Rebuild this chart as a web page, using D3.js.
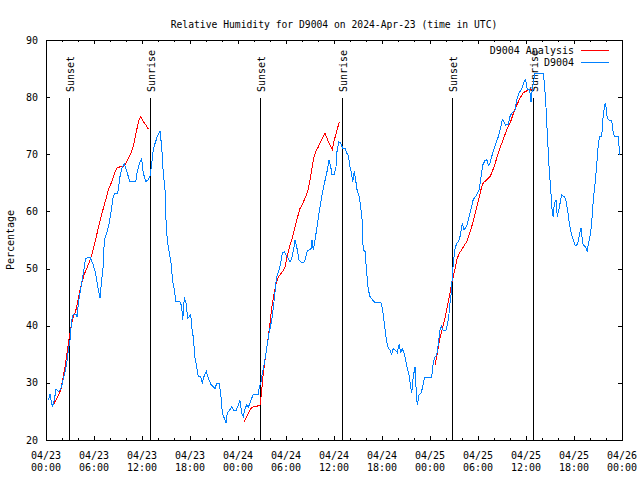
<!DOCTYPE html>
<html><head><meta charset="utf-8">
<script src="https://cdn.jsdelivr.net/npm/d3@7"></script>
<style>
html,body{margin:0;padding:0;background:#fff;}
svg{display:block;}
text{font-family:"DejaVu Sans Mono",monospace;font-size:10px;fill:#000;}
text.title{font-size:9.7px;}
</style></head><body>
<svg id="c" width="640" height="480"></svg>
<script>
// ---------------- DATA ----------------
const chartTitle = "Relative Humidity for D9004 on 2024-Apr-23 (time in UTC)";
const yAxisTitle = "Percentage";
const startDate = "2024-04-23T00:00:00Z";
const spanHours = 72;
const seriesNames = ["D9004 Analysis", "D9004"];
const yTicks = [20, 30, 40, 50, 60, 70, 80, 90];

// D9004 observations: hours since start, relative humidity (%)
const obsHours = [0.29,0.5,0.79,1.04,1.25,1.54,1.84,2.04,2.38,2.59,2.79,3.0,3.21,3.41,3.75,3.88,4.04,4.25,4.46,4.66,4.96,5.5,5.84,6.13,6.34,6.54,6.75,6.96,7.16,7.29,7.59,7.88,8.13,8.41,8.63,8.96,9.25,9.54,9.79,10.09,10.5,11.21,11.41,11.75,11.96,12.16,12.5,12.79,13.0,13.21,13.41,13.63,13.91,14.25,14.46,14.66,14.88,15.0,15.16,15.41,15.63,15.84,16.04,16.25,16.75,16.96,17.09,17.29,17.5,17.71,17.91,18.09,18.21,18.41,18.63,18.84,19.04,19.34,19.54,19.75,20.04,20.29,20.59,20.91,21.13,21.34,21.63,21.84,22.04,22.29,22.5,22.66,22.91,23.21,23.5,23.75,24.04,24.25,24.46,24.66,24.88,25.09,25.29,25.5,25.71,25.91,26.54,26.66,26.88,27.04,27.29,27.5,27.71,27.88,28.09,28.29,28.5,28.71,28.84,29.13,29.34,29.54,29.79,30.09,30.29,30.5,30.71,31.0,31.13,31.38,31.63,31.96,32.16,32.38,32.63,32.91,33.13,33.25,33.41,33.63,33.91,34.16,34.46,34.79,35.09,35.38,35.63,35.71,36.0,36.25,36.34,36.59,36.84,37.09,37.38,37.59,37.79,38.0,38.13,38.34,38.54,38.71,38.91,39.16,39.38,39.54,39.59,39.66,39.88,40.09,40.29,40.5,40.84,41.13,41.88,42.09,42.29,42.5,42.71,43.0,43.21,43.41,43.71,43.91,44.16,44.34,44.54,44.75,44.96,45.16,45.38,45.59,45.71,45.91,46.13,46.25,46.41,46.63,46.88,47.09,47.29,47.38,48.21,48.34,48.54,48.84,49.04,49.25,49.41,49.66,49.96,50.16,50.34,50.5,50.66,50.79,50.91,51.13,51.34,51.54,51.75,52.04,52.25,52.59,53.0,53.29,53.41,53.84,54.16,54.38,54.59,54.88,55.09,55.29,55.5,55.71,55.91,56.25,56.54,56.84,57.04,57.25,57.46,57.79,58.0,58.21,58.41,58.63,58.84,59.13,59.34,59.54,59.75,59.96,60.16,60.38,60.5,60.63,60.79,60.91,61.13,62.16,62.29,62.46,62.59,62.71,62.88,63.09,63.29,63.41,63.54,63.75,63.91,64.09,64.46,64.75,64.96,65.21,65.41,65.63,65.84,66.13,66.34,66.54,66.69,66.88,67.04,67.16,67.46,67.66,67.79,68.0,68.21,68.41,68.63,68.84,69.04,69.25,69.46,69.66,69.88,70.0,70.16,70.41,70.71,70.84,71.04,71.54,71.66,71.75];
const obsValues = [27.0,28.0,25.8,27.0,28.9,28.5,28.9,29.9,32.0,33.4,35.7,37.5,41.0,42.0,42.0,41.5,43.9,45.7,47.4,49.2,51.8,52.0,50.9,49.5,48.0,46.3,44.8,48.0,50.6,55.0,56.2,57.9,60.0,62.6,63.2,63.2,66.1,67.8,68.3,67.0,65.2,65.2,67.0,68.7,69.2,66.7,65.2,65.6,66.1,68.4,70.7,71.9,73.1,74.1,71.3,66.7,63.8,58.5,55.0,52.7,50.9,47.7,46.3,44.2,44.2,43.4,41.0,45.0,43.9,41.3,41.6,42.0,39.8,38.0,34.3,32.8,31.1,31.1,30.0,31.1,32.0,30.8,29.8,29.3,29.0,29.9,29.9,28.2,24.7,23.8,23.0,24.7,25.1,25.8,25.1,25.1,26.1,26.9,24.7,24.1,25.5,26.1,25.8,26.4,27.3,28.0,28.0,29.3,30.2,31.7,33.4,35.2,37.2,38.7,40.1,41.6,44.2,47.1,48.6,49.8,50.9,52.8,52.9,52.1,51.8,51.2,51.8,53.8,55.0,53.5,51.5,51.0,51.0,51.5,53.0,53.3,53.5,55.0,53.3,55.0,57.6,60.0,62.6,64.9,66.7,69.0,67.5,66.4,66.4,67.8,70.2,72.2,72.0,71.0,71.0,70.2,69.8,67.8,67.0,65.2,67.0,65.5,63.5,62.6,60.2,58.1,55.0,53.3,53.0,49.2,46.3,45.1,44.5,44.0,44.0,42.7,40.4,38.1,36.3,35.7,35.0,36.0,35.7,35.3,36.8,35.2,36.0,35.2,34.0,32.5,31.4,29.3,28.2,31.1,32.8,29.3,26.1,27.9,28.2,29.3,30.8,31.0,31.0,32.8,34.3,34.9,36.9,39.2,40.0,39.1,39.1,40.1,41.6,43.9,45.7,48.6,50.9,53.5,54.4,54.7,55.6,57.9,56.8,57.4,59.7,61.4,62.1,62.9,63.8,66.1,68.1,68.9,69.1,68.1,68.4,69.6,70.5,71.9,73.1,74.7,76.0,75.7,75.1,75.2,76.6,77.2,77.5,77.7,79.5,80.8,81.1,81.8,82.7,83.1,81.3,81.4,80.7,79.2,81.4,82.4,84.2,84.2,82.4,79.5,75.4,72.5,67.8,63.8,59.7,59.1,61.4,62.0,59.1,60.2,62.9,62.6,62.1,60.2,57.9,56.4,55.3,54.1,54.1,54.7,56.0,57.1,55.0,54.1,53.8,53.0,54.4,55.6,57.9,62.0,64.9,68.1,71.9,73.2,73.1,76.9,78.9,78.3,76.3,76.0,76.0,74.3,73.1,73.1,70.8,69.9];

// D9004 Analysis: three overnight segments
const analysisHours1 = [1.0,1.34,1.63,1.88,2.16,2.38,2.59,2.79,3.0,3.21,3.41,3.63,3.84,4.04,4.25,4.46,4.75,5.09,5.5,5.84,6.13,6.54,6.84,7.16,7.46,7.79,8.13,8.5,8.84,9.25,9.66,10.0,10.29,10.71,11.0,11.34,11.63,11.84,12.16,12.5,12.79];
const analysisValues1 = [26.4,27.3,28.0,29.0,31.1,32.8,34.9,36.9,38.7,40.4,41.6,42.2,43.3,44.8,46.3,47.4,48.9,50.0,51.5,53.0,54.7,57.1,58.8,60.5,62.0,63.8,64.9,66.4,67.6,67.8,67.8,68.4,69.3,70.5,71.9,74.3,76.0,76.6,75.7,75.1,74.4];
const analysisHours2 = [24.79,25.09,25.29,25.59,25.91,26.34,26.75,26.88,27.04,27.16,27.38,27.59,27.79,28.0,28.21,28.41,28.71,28.96,29.25,29.59,29.88,30.09,30.29,30.5,30.79,31.13,31.46,31.75,32.09,32.38,32.71,33.0,33.21,33.41,33.71,34.04,34.34,34.66,34.88,35.21,35.5,35.79,36.04,36.34,36.66];
const analysisValues2 = [23.2,24.1,24.7,25.5,25.8,25.9,26.1,27.6,29.9,31.7,34.0,36.0,38.1,40.4,43.0,44.8,47.1,48.3,48.9,49.5,50.3,51.8,53.0,54.1,55.3,57.3,59.1,60.5,61.4,62.3,63.5,65.5,67.3,69.0,70.5,71.3,72.2,73.1,73.7,72.5,71.6,70.8,72.5,74.0,75.7];
const analysisHours3 = [48.63,48.84,49.04,49.25,49.46,49.66,49.88,50.09,50.29,50.5,50.71,50.91,51.13,51.34,51.66,51.96,52.29,52.59,52.79,53.21,53.54,53.84,54.16,54.46,54.66,55.09,55.5,55.71,56.0,56.34,56.75,57.16,57.59,58.0,58.41,58.84,59.25,59.66,60.09,60.5,60.71];
const analysisValues3 = [33.1,34.6,36.3,37.8,39.0,40.1,41.3,42.8,44.2,45.7,47.4,48.6,50.0,51.5,52.7,53.3,54.1,54.7,55.6,57.3,59.1,60.8,62.6,64.3,65.0,65.5,66.1,66.7,67.8,69.3,71.1,72.6,74.3,75.4,77.1,78.6,79.8,80.8,81.1,81.4,81.3];

// Sunset / sunrise markers (hours since start)
const eventLabels = ["Sunset", "Sunrise", "Sunset", "Sunrise", "Sunset", "Sunrise"];
const eventHours = [2.91, 13.0, 26.8, 36.95, 50.8, 60.9];

// ---------------- DRAW ----------------
const svg = d3.select("#c");
const M = {left: 46, right: 622, top: 40, bottom: 440};
const t0 = new Date(startDate);
const toDate = h => new Date(t0.getTime() + h * 3600e3);
const x = d3.scaleUtc().domain([t0, toDate(spanHours)]).range([M.left, M.right]);
const y = d3.scaleLinear().domain([20, 90]).range([M.bottom, M.top]);
const px = v => Math.round(v) + 0.5;

const colors = {analysis: "#ff0000", obs: "#0080ff"};

// title
svg.append("text").attr("class", "title").attr("x", 334).attr("y", 28).attr("text-anchor", "middle").text(chartTitle);
// y title
svg.append("text").attr("transform", "translate(14,240) rotate(-90)").attr("text-anchor", "middle").text(yAxisTitle);

const g = svg.append("g").attr("shape-rendering", "crispEdges");

// x ticks (every 2h minor, 6h major), bottom and top, inward
const minorTicks = x.ticks(d3.utcHour.every(2));
minorTicks.forEach(d => {
  const major = d.getUTCHours() % 6 === 0;
  const len = major ? 4 : 2;
  const xx = px(x(d));
  g.append("line").attr("x1", xx).attr("x2", xx).attr("y1", M.bottom).attr("y2", M.bottom - len).attr("stroke", "#000");
  g.append("line").attr("x1", xx).attr("x2", xx).attr("y1", M.top).attr("y2", M.top + len).attr("stroke", "#000");
});
const fmtDay = d3.utcFormat("%m/%d"), fmtTime = d3.utcFormat("%H:%M");
x.ticks(d3.utcHour.every(6)).forEach(d => {
  const t = svg.append("text").attr("text-anchor", "middle");
  t.append("tspan").attr("x", x(d)).attr("y", 458.5).text(fmtDay(d));
  t.append("tspan").attr("x", x(d)).attr("y", 470.5).text(fmtTime(d));
});

// y ticks
yTicks.forEach(v => {
  const yy = px(y(v));
  g.append("line").attr("x1", M.left).attr("x2", M.left + 4).attr("y1", yy).attr("y2", yy).attr("stroke", "#000");
  g.append("line").attr("x1", M.right).attr("x2", M.right - 4).attr("y1", yy).attr("y2", yy).attr("stroke", "#000");
  svg.append("text").attr("x", 38).attr("y", y(v)).attr("dy", "0.36em").attr("text-anchor", "end").text(v);
});

// sunset / sunrise lines
eventHours.forEach((h, i) => {
  const xx = px(x(toDate(h)));
  g.append("line").attr("x1", xx).attr("x2", xx).attr("y1", 98).attr("y2", M.bottom).attr("stroke", "#000");
  svg.append("text").attr("transform", `translate(${xx + 4.5},92) rotate(-90)`).attr("text-anchor", "start").text(eventLabels[i]);
});

// frame
g.append("rect").attr("x", M.left + 0.5).attr("y", M.top + 0.5)
  .attr("width", M.right - M.left).attr("height", M.bottom - M.top)
  .attr("fill", "none").attr("stroke", "#000");

const line = d3.line().x(d => x(toDate(d[0]))).y(d => y(d[1]));
const zipPts = (hs, vs) => hs.map((h, i) => [h, vs[i]]).filter(d => d[1] != null);

const dataG = svg.append("g").attr("shape-rendering", "crispEdges").attr("fill", "none").attr("stroke-width", 1);
[[analysisHours1, analysisValues1], [analysisHours2, analysisValues2], [analysisHours3, analysisValues3]].forEach(([hs, vs]) => {
  dataG.append("path").attr("d", line(zipPts(hs, vs))).attr("stroke", colors.analysis);
});
dataG.append("path").attr("d", line(zipPts(obsHours, obsValues))).attr("stroke", colors.obs);

// legend
const legendColors = [colors.analysis, colors.obs];
seriesNames.forEach((name, i) => {
  const cy = 50.5 + i * 12;
  svg.append("text").attr("x", 574).attr("y", cy).attr("dy", "0.36em").attr("text-anchor", "end").text(name);
  dataG.append("line").attr("x1", 581).attr("x2", 609).attr("y1", cy).attr("y2", cy).attr("stroke", legendColors[i]);
});
</script>
</body></html>
